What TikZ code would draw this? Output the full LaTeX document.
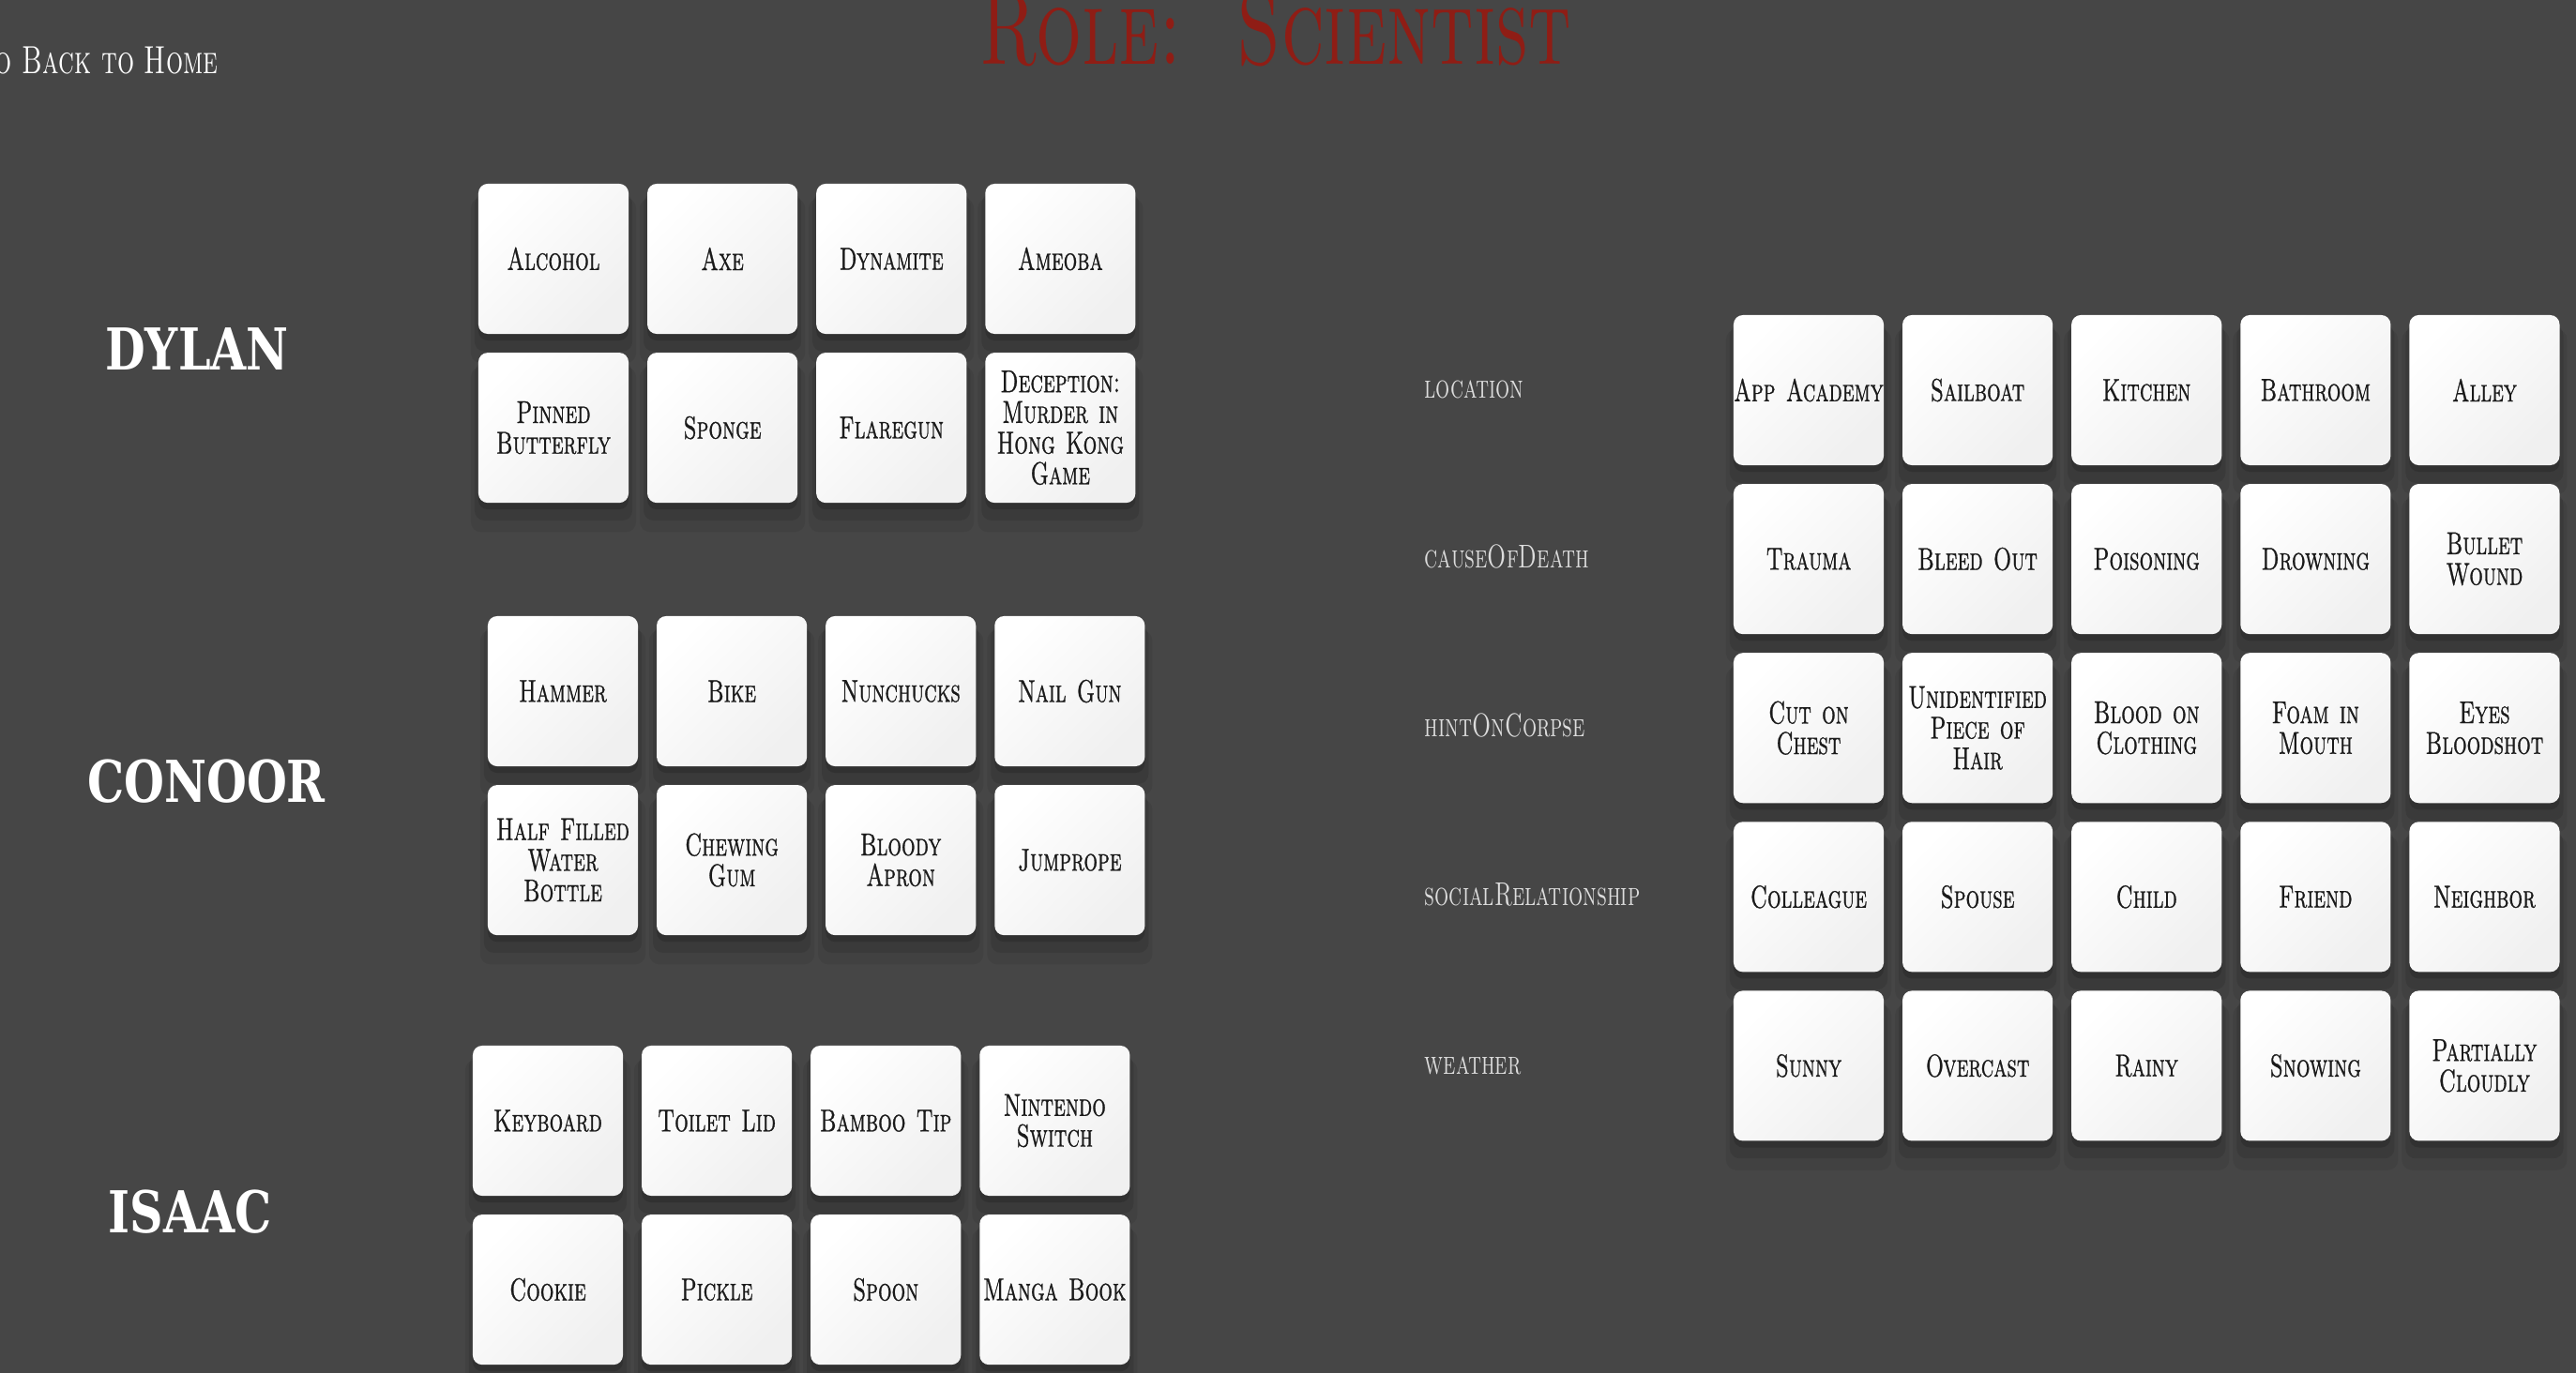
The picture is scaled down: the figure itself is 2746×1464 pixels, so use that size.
\documentclass[tikz,border=0pt]{standalone}
\usepackage{fontspec}
\newfontfamily\capsfont{lmromancaps10-regular.otf}[FakeStretch=0.68]
\newfontfamily\cardfont{lmromancaps10-regular.otf}[FakeStretch=0.68, FakeBold=0.8]
\newfontfamily\namefont{DejaVu Serif}[FakeStretch=0.8]
\usetikzlibrary{shadows}
\definecolor{bgcol}{HTML}{464646}
\definecolor{titlered}{HTML}{8F1D15}
\definecolor{fieldcol}{HTML}{DCDCDC}
\definecolor{cardtext}{HTML}{1A1A1A}

\begin{document}
\begin{tikzpicture}[
x=0.01cm, y=-0.01cm,
node distance=1.8cm,
card/.style={rectangle, rounded corners=0.1cm, minimum width=1.6cm, minimum height=1.6cm, text width=1.52cm, inner sep=0.04cm, align=center, text=cardtext, font=\cardfont\fontsize{9.6}{9.3}\selectfont, top color=white, middle color=white, bottom color=black!6, shading angle=45,
  drop shadow={shadow xshift=0pt, shadow yshift=-6pt, shadow scale=1.1, opacity=0.07, fill=black},
  drop shadow={shadow xshift=0pt, shadow yshift=-4pt, shadow scale=1.05, opacity=0.10, fill=black},
  drop shadow={shadow xshift=0pt, shadow yshift=-2pt, opacity=0.14, fill=black}},
player/.style={anchor=base, text=white, font=\namefont\bfseries\fontsize{17.5}{22}\selectfont},
field/.style={anchor=base west, inner sep=0pt, text=fieldcol, font=\capsfont\fontsize{10}{12}\selectfont}
]

\useasboundingbox (0,0) rectangle (2746,1464);
\fill[bgcol] (0,0) rectangle (2746,1464);

\node[anchor=base east, inner sep=0pt, text=white, font=\capsfont\fontsize{11.9}{14}\selectfont] (home) at (233,79) {Go Back to Home};
\node[anchor=base, inner sep=0pt, text=titlered, font=\capsfont\fontsize{32.3}{36}\selectfont] (role) at (1360,69) {Role:\ \ Scientist};

\node[player] (dylan) at (210,395) {DYLAN};
\node[player] (conoor) at (220,855) {CONOOR};
\node[player] (isaac) at (203,1314) {ISAAC};

\node[card] (alcohol) at (590,276) {Alcohol};
\node[card, right of=alcohol] (axe) {Axe};
\node[card, right of=axe] (dynamite) {Dynamite};
\node[card, right of=dynamite] (ameoba) {Ameoba};
\node[card, below of=alcohol] (butterfly) {Pinned\\Butterfly};
\node[card, right of=butterfly] (sponge) {Sponge};
\node[card, right of=sponge] (flaregun) {Flaregun};
\node[card, right of=flaregun] (deception) {Deception:\\Murder in\\Hong Kong\\Game};

\node[card] (hammer) at (600,737) {Hammer};
\node[card, right of=hammer] (bike) {Bike};
\node[card, right of=bike] (nunchucks) {Nunchucks};
\node[card, right of=nunchucks] (nailgun) {Nail Gun};
\node[card, below of=hammer] (bottle) {Half Filled\\Water\\Bottle};
\node[card, right of=bottle] (gum) {Chewing\\Gum};
\node[card, right of=gum] (apron) {Bloody\\Apron};
\node[card, right of=apron] (jumprope) {Jumprope};

\node[card] (keyboard) at (584,1195) {Keyboard};
\node[card, right of=keyboard] (toilet) {Toilet Lid};
\node[card, right of=toilet] (bamboo) {Bamboo Tip};
\node[card, right of=bamboo] (switch) {Nintendo\\Switch};
\node[card, below of=keyboard] (cookie) {Cookie};
\node[card, right of=cookie] (pickle) {Pickle};
\node[card, right of=pickle] (spoon) {Spoon};
\node[card, right of=spoon] (manga) {\makebox[1.52cm]{Manga Book}};

\node[field] (location) at (1518,425) {location};
\node[field] (cause) at (1518,605) {causeOfDeath};
\node[field] (hint) at (1518,785) {hintOnCorpse};
\node[field] (social) at (1518,965) {socialRelationship};
\node[field] (weather) at (1518,1145) {weather};

\node[card] (app) at (1928,416) {\makebox[1.52cm]{App Academy}};
\node[card, right of=app] (sailboat) {Sailboat};
\node[card, right of=sailboat] (kitchen) {Kitchen};
\node[card, right of=kitchen] (bathroom) {Bathroom};
\node[card, right of=bathroom] (alley) {Alley};

\node[card, below of=app] (trauma) {Trauma};
\node[card, right of=trauma] (bleed) {Bleed Out};
\node[card, right of=bleed] (poisoning) {Poisoning};
\node[card, right of=poisoning] (drowning) {Drowning};
\node[card, right of=drowning] (bullet) {Bullet\\Wound};

\node[card, below of=trauma] (cut) {Cut on\\Chest};
\node[card, right of=cut] (hair) {\makebox[1.52cm]{Unidentified}\\Piece of\\Hair};
\node[card, right of=hair] (blood) {Blood on\\Clothing};
\node[card, right of=blood] (foam) {Foam in\\Mouth};
\node[card, right of=foam] (eyes) {Eyes\\Bloodshot};

\node[card, below of=cut] (colleague) {Colleague};
\node[card, right of=colleague] (spouse) {Spouse};
\node[card, right of=spouse] (child) {Child};
\node[card, right of=child] (friend) {Friend};
\node[card, right of=friend] (neighbor) {Neighbor};

\node[card, below of=colleague] (sunny) {Sunny};
\node[card, right of=sunny] (overcast) {Overcast};
\node[card, right of=overcast] (rainy) {Rainy};
\node[card, right of=rainy] (snowing) {Snowing};
\node[card, right of=snowing] (cloudly) {Partially\\Cloudly};

\end{tikzpicture}
\end{document}
